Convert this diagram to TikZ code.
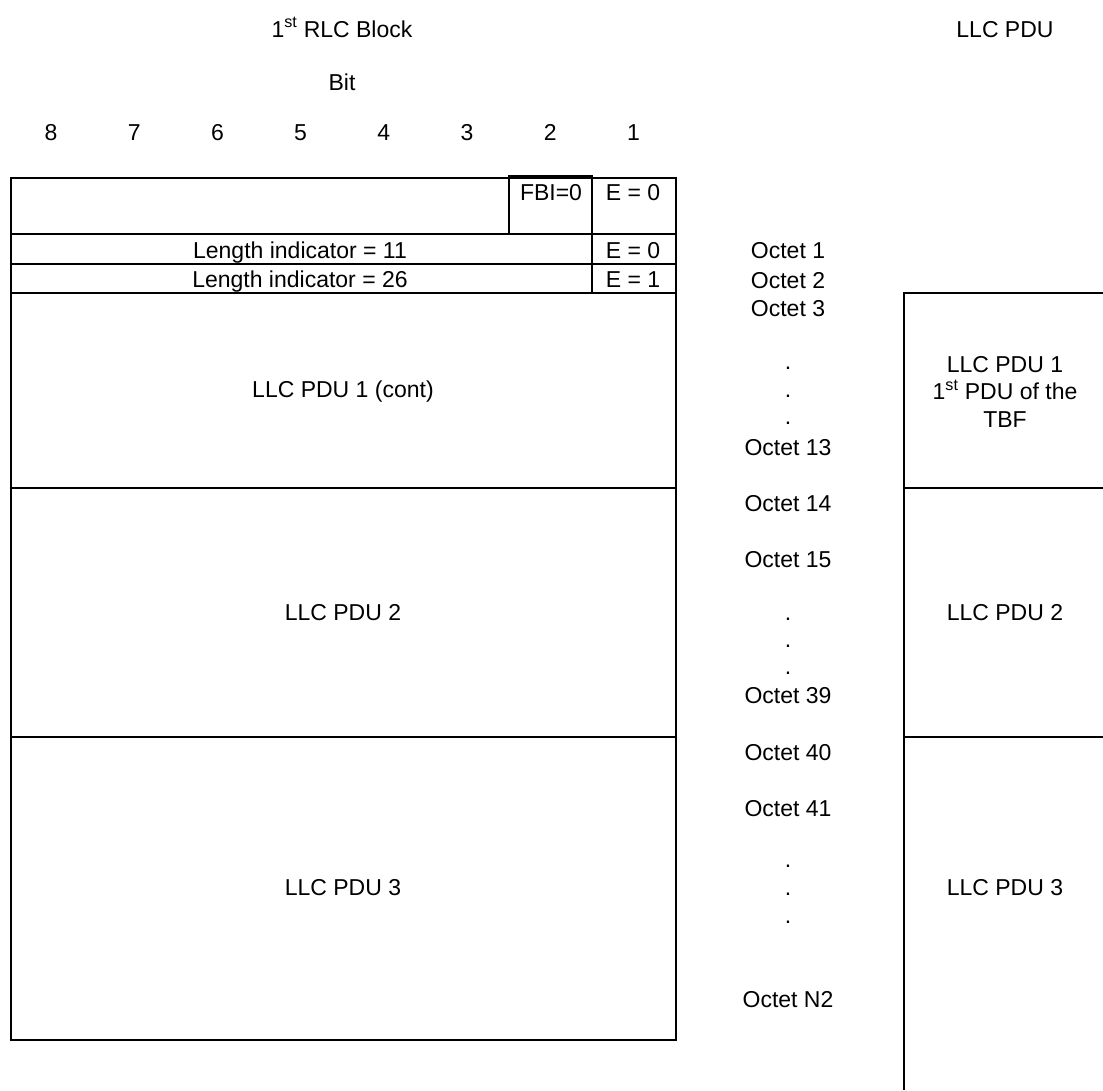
\documentclass[tikz,border=0pt]{standalone}
\usepackage{fontspec}
\setmainfont{Liberation Sans}
\usetikzlibrary{positioning}

\newcommand{\pdufont}{\fontsize{23}{27.5}\selectfont}

\begin{document}
\begin{tikzpicture}[x=1pt,y=-1pt,
  lbl/.style={inner sep=0pt,anchor=base,font=\pdufont},
  box/.style={draw,line width=1.7pt}
]
\useasboundingbox (0,0) rectangle (1103,1090);
% headings
\node[lbl] (blk) at (342,37) {1\textsuperscript{st} RLC Block};
\node[lbl] (llc) at (1005,37) {LLC PDU};
\node[lbl] (bit) at (342,90) {Bit};
\foreach \b [count=\i from 0] in {8,...,1}
  \node[lbl] (b\b) at (51+83.2*\i,140) {\b};
% RLC block
\draw[box] (11,178) rectangle (676,234);
\draw[box] (509,176) rectangle (592,234);
\draw[box] (11,234) rectangle (676,264);
\draw[box] (11,264) rectangle (676,293);
\draw[box] (592,234) -- (592,293);
\draw[box] (11,293) rectangle (676,488);
\draw[box] (11,488) rectangle (676,737);
\draw[box] (11,737) rectangle (676,1040);
\node[lbl] (fbi) at (551,200) {FBI=0};
\node[lbl] (ea) at (633,200) {E = 0};
\node[lbl] (li1) at (300,258) {Length indicator = 11};
\node[lbl] (eb) at (633,258) {E = 0};
\node[lbl] (li2) at (300,287) {Length indicator = 26};
\node[lbl] (ec) at (633,287) {E = 1};
\node[lbl] (p1) at (343,397) {LLC PDU 1 (cont)};
\node[lbl] (p2) at (343,620) {LLC PDU 2};
\node[lbl] (p3) at (343,895) {LLC PDU 3};
% octets
\foreach \y/\t in {258/Octet 1,288/Octet 2,316/Octet 3,369/.,397/.,424/.,455/Octet 13,
    511/Octet 14,567/Octet 15,620/.,647/.,674/.,703/Octet 39,
    760/Octet 40,816/Octet 41,867/.,895/.,923/.,1007/Octet N2}
  \node[lbl] (oct\y) at (788,\y) {\t};
% LLC PDU column
\draw[box] (904,1090) -- (904,293) -- (1103,293);
\draw[box] (904,488) -- (1103,488);
\draw[box] (904,737) -- (1103,737);
\node[lbl,align=center] (q1) at (1005,427) {LLC PDU 1\\1\textsuperscript{st} PDU of the\\TBF};
\node[lbl] (q2) at (1005,620) {LLC PDU 2};
\node[lbl] (q3) at (1005,895) {LLC PDU 3};
\end{tikzpicture}
\end{document}
